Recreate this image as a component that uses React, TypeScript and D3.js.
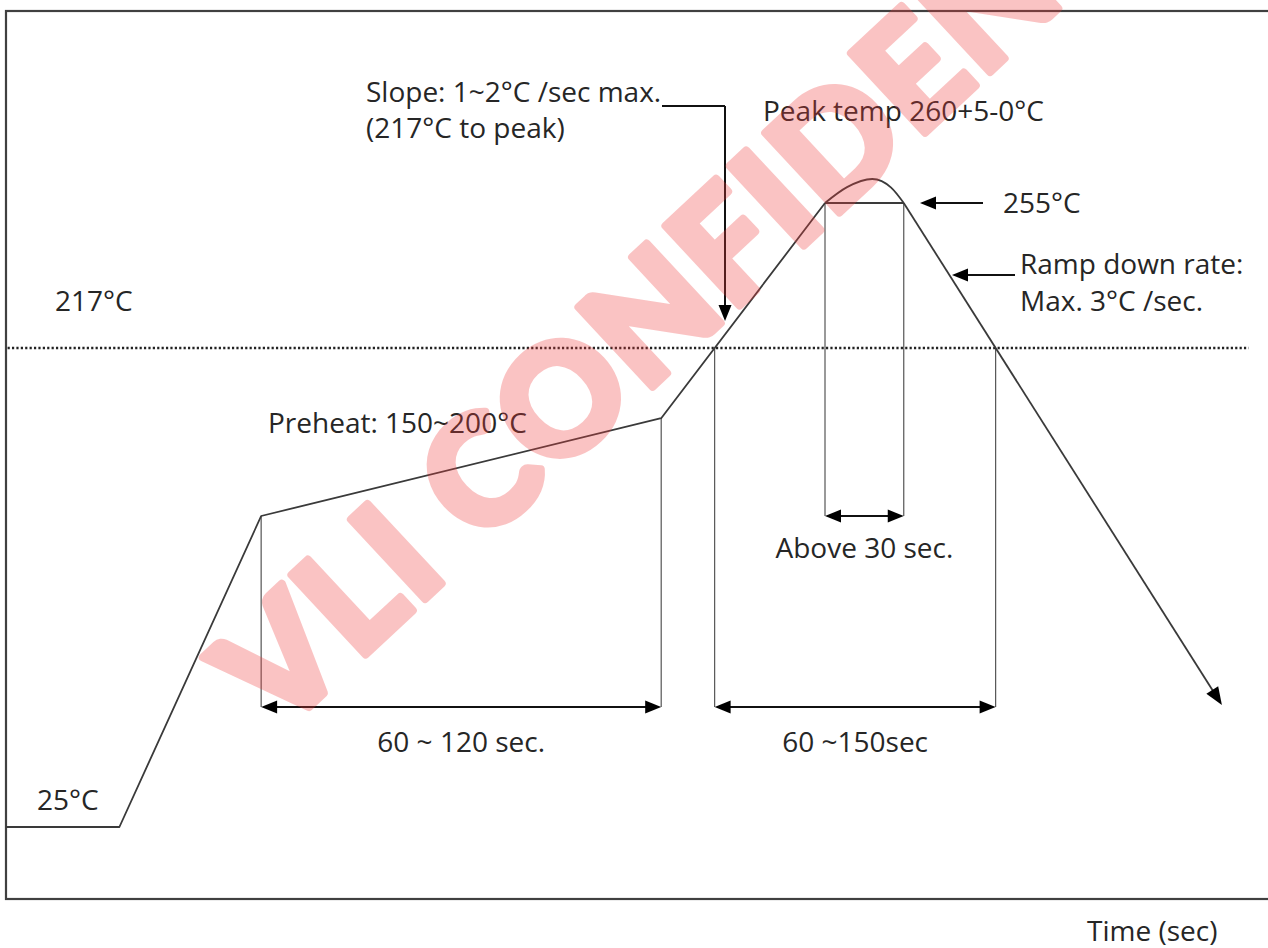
import { useEffect, useRef } from 'react';
import * as d3 from 'd3';

const W = 1268;
const H = 948;

// Schematic reflow profile: time (sec) vs temperature (°C)
const RAMP_TIME = [0, 36, 81, 208, 260];
const RAMP_TEMP = [25, 25, 150, 189, 255];
const PEAK_TIME = [260, 267, 275, 281, 285];
const PEAK_TEMP = [255, 258.3, 260, 258.2, 255];
const COOL_TIME = [285, 386];
const COOL_TEMP = [255, 74];

// knots of the (non-linear, schematic) temperature axis
const TEMP_KNOTS = [25, 150, 217, 255, 260];
const LIQUIDUS = 217;
const LIQUIDUS_SPAN = [0.5, 394.5];

const INK = '#262626';
const LINE = '#3a3a3a';
const FONT = '"Open Sans", Lato, sans-serif';

type Pt = [number, number];

export default function App() {
  const svgRef = useRef<SVGSVGElement>(null);

  useEffect(() => {
    if (!svgRef.current) return;
    const svg = d3.select(svgRef.current);
    svg.selectAll('*').remove();

    const x = d3.scaleLinear().domain([0, 400]).range([6, 1266]);
    const y = d3.scaleLinear().domain(TEMP_KNOTS).range([827, 516, 348, 203, 179]);

    const ramp: Pt[] = RAMP_TIME.map((t, i) => [x(t), y(RAMP_TEMP[i])]);
    const peak: Pt[] = PEAK_TIME.map((t, i) => [x(t), y(PEAK_TEMP[i])]);
    const cool: Pt[] = COOL_TIME.map((t, i) => [x(t), y(COOL_TEMP[i])]);

    // where the profile crosses the liquidus line
    const yl = y(LIQUIDUS);
    const cross = (a: Pt, b: Pt) => a[0] + ((b[0] - a[0]) * (yl - a[1])) / (b[1] - a[1]);
    const xUp = cross(ramp[3], ramp[4]);
    const xDown = cross(cool[0], cool[1]);

    const preStart = ramp[2];
    const preEnd = ramp[3];
    const at255L = ramp[4];
    const at255R = cool[0];

    const head = (tip: Pt, dx: number, dy: number, len = 15, half = 6) => {
      const n = Math.hypot(dx, dy);
      const ux = dx / n, uy = dy / n;
      const bx = tip[0] - ux * len, by = tip[1] - uy * len;
      svg.append('path')
        .attr('d', `M${tip[0]},${tip[1]}L${bx - uy * half},${by + ux * half}L${bx + uy * half},${by - ux * half}Z`)
        .attr('fill', '#000');
    };

    const seg = (x1: number, y1: number, x2: number, y2: number, stroke = LINE, w = 1.6) =>
      svg.append('line')
        .attr('x1', x1).attr('y1', y1).attr('x2', x2).attr('y2', y2)
        .attr('stroke', stroke).attr('stroke-width', w);

    const label = (tx: number, ty: number, s: string, anchor = 'start') =>
      svg.append('text')
        .attr('x', tx).attr('y', ty)
        .attr('text-anchor', anchor)
        .attr('font-family', FONT)
        .attr('font-size', 28)
        .attr('fill', INK)
        .text(s);

    // frame
    svg.append('rect')
      .attr('x', 6).attr('y', 11).attr('width', 1275).attr('height', 888)
      .attr('fill', 'none').attr('stroke', '#404040').attr('stroke-width', 2.2);

    // liquidus dotted line
    svg.append('line')
      .attr('x1', x(LIQUIDUS_SPAN[0])).attr('x2', x(LIQUIDUS_SPAN[1]))
      .attr('y1', yl).attr('y2', yl)
      .attr('stroke', '#222').attr('stroke-width', 2.6).attr('stroke-dasharray', '2.2 2.2');

    // dimension verticals
    const dimY = 707;
    const aboveY = 516;
    [preStart, preEnd].forEach((p) => seg(p[0], p[1], p[0], dimY, '#555', 1.2));
    [xUp, xDown].forEach((px) => seg(px, yl, px, dimY, '#555', 1.2));
    [at255L, at255R].forEach((p) => seg(p[0], p[1], p[0], aboveY, '#555', 1.2));
    seg(at255L[0], at255L[1], at255R[0], at255R[1], LINE, 1.8);

    // profile
    const lin = d3.line<Pt>();
    svg.append('path').attr('d', lin(ramp)).attr('fill', 'none')
      .attr('stroke', LINE).attr('stroke-width', 1.8).attr('stroke-linejoin', 'round');
    svg.append('path').attr('d', d3.line<Pt>().curve(d3.curveMonotoneX)(peak)).attr('fill', 'none')
      .attr('stroke', LINE).attr('stroke-width', 1.8);
    const coolEnd = cool[1];
    svg.append('path').attr('d', lin([cool[0], [coolEnd[0] - 6, coolEnd[1] - 9.6]])).attr('fill', 'none')
      .attr('stroke', LINE).attr('stroke-width', 1.8);
    head(coolEnd, cool[1][0] - cool[0][0], cool[1][1] - cool[0][1], 18, 7);

    // double arrows
    const dbl = (x1: number, x2: number, yy: number) => {
      seg(x1 + 8, yy, x2 - 8, yy, '#111', 2);
      head([x1, yy], -1, 0, 16, 6.5);
      head([x2, yy], 1, 0, 16, 6.5);
    };
    dbl(preStart[0], preEnd[0], dimY);
    dbl(xUp, xDown, dimY);
    dbl(at255L[0], at255R[0], aboveY);

    // slope leader
    const slopeX = 725;
    seg(662, 106, slopeX, 106, '#111', 2);
    seg(slopeX, 106, slopeX, 310, '#111', 2);
    head([slopeX, 321], 0, 1, 16, 6.5);

    // 255 pointer
    seg(930, at255R[1], 983, at255R[1], '#111', 2);
    head([920, at255R[1]], -1, 0, 16, 6.5);

    // ramp-down pointer
    seg(962, 275, 1015, 275, '#111', 2);
    head([952, 275], -1, 0, 16, 6.5);

    // text
    label(366, 102, 'Slope: 1~2°C /sec max.');
    label(366, 138, '(217°C to peak)');
    label(763, 121, 'Peak temp 260+5-0°C');
    label(1003, 213, '255°C');
    label(1020, 274, 'Ramp down rate:');
    label(1020, 311, 'Max. 3°C /sec.');
    label(55, 311, '217°C');
    label(268, 433, 'Preheat: 150~200°C');
    label((at255L[0] + at255R[0]) / 2, 558, 'Above 30 sec.', 'middle');
    label((preStart[0] + preEnd[0]) / 2, 752, '60 ~ 120 sec.', 'middle');
    label((xUp + xDown) / 2, 752, '60 ~150sec', 'middle');
    label(37, 810, '25°C');
    label(1087, 941, 'Time (sec)');

    // watermark
    const wm = svg.append('g').attr('opacity', 0.3)
      .attr('transform', 'translate(278,736) rotate(-43)');
    wm.append('text')
      .attr('font-family', 'Lato, sans-serif')
      .attr('font-weight', 900)
      .attr('font-size', 150)
      .attr('letter-spacing', 3)
      .attr('fill', '#f03c3c')
      .attr('stroke', '#f03c3c')
      .attr('stroke-width', 8)
      .attr('stroke-linejoin', 'round')
      .text('VLI CONFIDENTIAL');
  }, []);

  return (
    <svg
      ref={svgRef}
      width={W}
      height={H}
      style={{ position: 'absolute', left: 0, top: 0, background: '#fff' }}
    />
  );
}
